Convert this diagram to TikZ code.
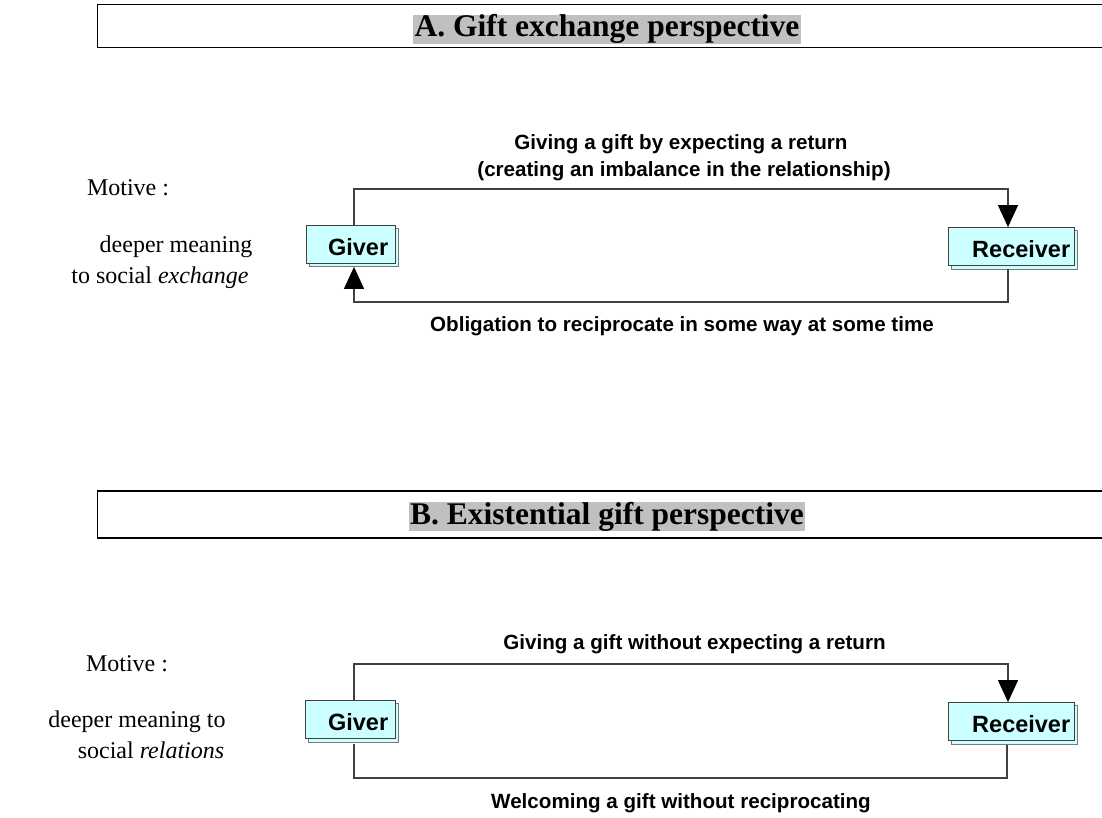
\documentclass[tikz,border=0pt]{standalone}
\usepackage{fontspec}
\setmainfont{Liberation Serif}
\setsansfont{Liberation Sans}
\usetikzlibrary{arrows.meta}
\definecolor{boxfill}{HTML}{CCFFFF}
\definecolor{hdrgray}{HTML}{C0C0C0}
\definecolor{linegray}{HTML}{404040}
\begin{document}
\begin{tikzpicture}[x=1pt,y=-1pt,
  frame/.style={line width=1.5pt,draw=black},
  hdr/.style={fill=hdrgray,font=\fontsize{31.5}{33}\selectfont\bfseries,text height=22pt,text depth=7pt,inner xsep=1.5pt,inner ysep=0pt},
  lbl/.style={font=\sffamily\bfseries\fontsize{20.6}{23}\selectfont,anchor=base,inner sep=0pt},
  motive/.style={font=\fontsize{24}{26}\selectfont,anchor=base,inner sep=0pt},
  actor/.style={draw=linegray,fill=boxfill,line width=0.8pt,inner sep=0pt,minimum height=38pt},
  actortext/.style={font=\sffamily\bfseries\fontsize{23.5}{25}\selectfont,anchor=east,inner sep=0pt},
  shadowbox/.style={draw=linegray!70,fill=boxfill,line width=0.8pt},
  conn/.style={draw=linegray,line width=1.2pt},
  tip/.style={-{Triangle[width=20pt,length=22pt,color=black,fill=black]}}
]
\useasboundingbox (0,0) rectangle (1102,818);
\fill[white] (0,0) rectangle (1102,818);

% ---------- Section A ----------
\draw[frame] (1110,4.5) -- (97.5,4.5) -- (97.5,47.5) -- (1110,47.5);
\node[hdr] (hA) at (607,29.5) {A. Gift exchange perspective};

\node[motive] (mA1) at (128,196) {Motive :};
\node[motive] (mA2) at (176,252) {deeper meaning};
\node[motive] (mA3) at (160,283) {to social \textit{exchange}};

\draw[shadowbox] (309,228) rectangle (398,266);
\draw[shadowbox] (951,230) rectangle (1077,269);
\node[actor,minimum width=89pt] (gA) at (350.5,244.5) {};
\node[actor,minimum width=126pt] (rA) at (1011,246.5) {};
\node[actortext] (gAt) at ([xshift=-7pt,yshift=-3pt]gA.east) {Giver};
\node[actortext] (rAt) at ([xshift=-4pt,yshift=-3pt]rA.east) {Receiver};

\coordinate (topA) at (681,189);
\coordinate (botA) at (681,302);
\draw[conn,tip] ([xshift=3.5pt]gA.north) |- (topA) -| ([xshift=-3pt]rA.north);
\draw[conn,tip] ([xshift=-3pt,yshift=-3pt]rA.south) |- (botA) -| ([xshift=3.5pt,yshift=-3pt]gA.south);

\node[lbl] (lA1) at (681,150) {Giving a gift by expecting a return};
\node[lbl] (lA2) at (684,177) {(creating an imbalance in the relationship)};
\node[lbl] (lA3) at (682,331) {Obligation to reciprocate in some way at some time};

% ---------- Section B ----------
\draw[frame] (1110,491) -- (97.5,491) -- (97.5,538) -- (1110,538);
\node[hdr] (hB) at (607,516.5) {B. Existential gift perspective};

\node[motive] (mB1) at (127,671) {Motive :};
\node[motive] (mB2) at (137,727) {deeper meaning to};
\node[motive] (mB3) at (151,758) {social \textit{relations}};

\draw[shadowbox] (308,703) rectangle (398,742);
\draw[shadowbox] (951,705) rectangle (1077,744);
\node[actor,minimum width=90pt] (gB) at (350,719.5) {};
\node[actor,minimum width=126pt] (rB) at (1011,721.5) {};
\node[actortext] (gBt) at ([xshift=-7pt,yshift=-3pt]gB.east) {Giver};
\node[actortext] (rBt) at ([xshift=-4pt,yshift=-3pt]rB.east) {Receiver};

\coordinate (topB) at (681,664);
\coordinate (botB) at (681,778);
\draw[conn,tip] ([xshift=4pt]gB.north) |- (topB) -| ([xshift=-3pt]rB.north);
\draw[conn] ([xshift=-4pt,yshift=-4pt]rB.south) |- (botB) -| ([xshift=4pt,yshift=-5pt]gB.south);

\node[lbl] (lB1) at (694.5,649) {Giving a gift without expecting a return};
\node[lbl] (lB2) at (681,808) {Welcoming a gift without reciprocating};
\end{tikzpicture}
\end{document}
